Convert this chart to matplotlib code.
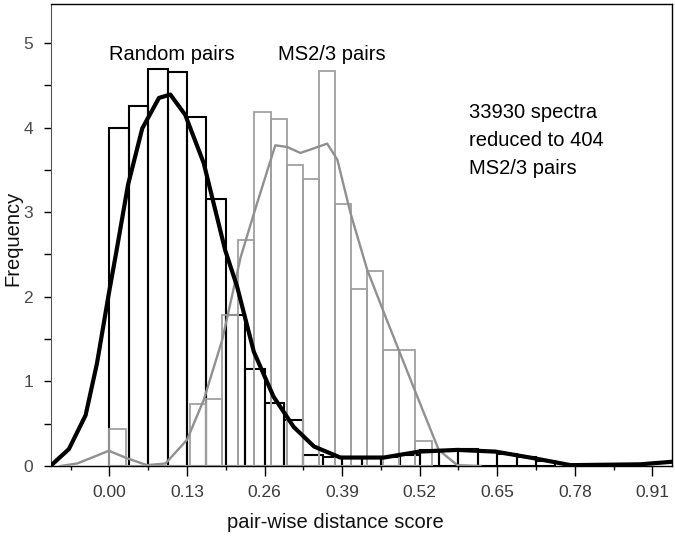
import matplotlib
matplotlib.use("Agg")
import matplotlib.pyplot as plt
import numpy as np

plt.rcParams['font.family'] = ['Liberation Sans', 'DejaVu Sans']

# Random pairs histogram (bin width 0.0325, starting at 0)
rand_bin_width = 0.0325
rand_heights = [4.00, 4.25, 4.69, 4.66, 4.13, 3.15, 1.78, 1.15, 0.75, 0.54,
                0.13, 0.11, 0.09, 0.09, 0.11, 0.13, 0.19, 0.19, 0.20, 0.18,
                0.14, 0.11, 0.06]

# MS2/3 pairs histogram (bin width 0.027, starting at 0)
ms_bin_width = 0.027
ms_heights = [0.44, 0, 0, 0, 0, 0.73, 0.79, 1.78, 2.67, 4.18, 4.10, 3.56,
              3.39, 4.67, 3.10, 2.09, 2.30, 1.37, 1.37, 0.29]

# Density curves
rand_curve_x = [-0.099, -0.068, -0.040, -0.021, -0.001, 0.012, 0.031, 0.055,
                0.083, 0.102, 0.127, 0.158, 0.194, 0.214, 0.242, 0.275, 0.309,
                0.343, 0.387, 0.46, 0.519, 0.583, 0.647, 0.713, 0.773, 0.890,
                0.943]
rand_curve_y = [0, 0.2, 0.6, 1.21, 2.04, 2.55, 3.32, 3.99, 4.35, 4.39, 4.15,
                3.58, 2.55, 2.12, 1.35, 0.82, 0.46, 0.23, 0.10, 0.10, 0.17,
                0.19, 0.17, 0.09, 0.01, 0.02, 0.05]

ms_curve_x = [-0.082, -0.054, -0.001, 0.03, 0.063, 0.094, 0.13, 0.158, 0.189,
              0.22, 0.245, 0.278, 0.298, 0.32, 0.337, 0.365, 0.382, 0.404,
              0.432, 0.463, 0.516, 0.552, 0.583, 0.622]
ms_curve_y = [0, 0.03, 0.18, 0.09, 0.01, 0.03, 0.31, 0.78, 1.49, 2.47, 3.05,
              3.79, 3.77, 3.70, 3.74, 3.81, 3.62, 2.99, 2.32, 1.76, 0.82, 0.19,
              0.01, 0]

xtick_vals = [0.00, 0.13, 0.26, 0.39, 0.52, 0.65, 0.78, 0.91]
xtick_labels = ["0.00", "0.13", "0.26", "0.39", "0.52", "0.65", "0.78", "0.91"]
ytick_vals = [0, 1, 2, 3, 4, 5]

fig = plt.figure(figsize=(6.75, 5.47), dpi=100)
ax = fig.add_axes([51/675, 1-466/547, (672-51)/675, (466-4)/547])

rand_left = np.arange(len(rand_heights)) * rand_bin_width
ms_left = np.arange(len(ms_heights)) * ms_bin_width

ax.bar(rand_left, rand_heights, width=rand_bin_width, align='edge',
       fill=False, edgecolor='black', linewidth=1.5, zorder=2)
ax.bar(ms_left, ms_heights, width=ms_bin_width, align='edge',
       fill=False, edgecolor='#a0a0a0', linewidth=1.3, zorder=3)
ax.plot(ms_curve_x, ms_curve_y, color='#909090', linewidth=1.7, zorder=4,
        solid_joinstyle='round')
ax.plot(rand_curve_x, rand_curve_y, color='black', linewidth=3.0, zorder=5,
        solid_joinstyle='round', solid_capstyle='round')

ax.set_xlim(-0.098, 0.943)
ax.set_ylim(0, 5.46)

ax.set_xticks(xtick_vals)
ax.set_xticklabels(xtick_labels)
ax.set_xticks(np.arange(-0.065, 0.95, 0.13), minor=True)
ax.set_yticks(ytick_vals)
ax.set_yticks(np.arange(0.5, 5.5, 1.0), minor=True)

ax.tick_params(axis='x', which='major', direction='out', length=7, width=1,
               labelsize=12.5, labelcolor='#3a3a3a', pad=7)
ax.tick_params(axis='x', which='minor', direction='out', length=3, width=1)
ax.tick_params(axis='y', which='both', direction='out', length=5, width=1,
               labelsize=12.5, labelcolor='#4a4a4a', pad=8)

for s in ['top', 'right', 'bottom']:
    ax.spines[s].set_color('black')
    ax.spines[s].set_linewidth(1.0)
ax.spines['left'].set_color('#555555')

fig.text(335/675, 1-523/547, "pair-wise distance score", ha='center',
         va='center', fontsize=14.5, color='#111111')
fig.text(13/675, 1-238/547, "Frequency", ha='center', va='center',
         rotation=90, fontsize=14.5, color='#111111')

ax.text(0.104, 4.86, "Random pairs", ha='center', va='center', fontsize=14.5)
ax.text(0.372, 4.86, "MS2/3 pairs", ha='center', va='center', fontsize=14.5)
ax.text(0.602, 3.85, "33930 spectra\nreduced to 404\nMS2/3 pairs",
        ha='left', va='center', fontsize=14.5, linespacing=1.6)

fig.savefig("out.png", dpi=100)
